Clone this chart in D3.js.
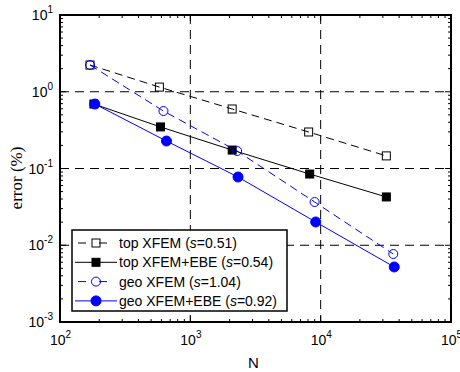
<!DOCTYPE html>
<html>
<head>
<meta charset="utf-8">
<script src="https://cdn.jsdelivr.net/npm/d3@7"></script>
<style>
  body { margin: 0; background: #fff; }
  svg { display: block; font-family: "Liberation Sans", Arial, sans-serif; }
</style>
</head>
<body>
<svg id="chart" width="460" height="372"></svg>
<script>
// values
const seriesNames = ['top XFEM', 'top XFEM+EBE', 'geo XFEM', 'geo XFEM+EBE'];
const slopes = ['0.51', '0.54', '1.04', '0.92'];
const topXfemN = [170, 579, 2094, 8090, 31900];
const topXfemErr = [2.23, 1.15, 0.596, 0.299, 0.146];
const topEbeN = [182, 590, 2094, 8240, 31900];
const topEbeErr = [0.692, 0.348, 0.174, 0.0847, 0.0426];
const geoXfemN = [170, 622, 2286, 8990, 36060];
const geoXfemErr = [2.23, 0.561, 0.169, 0.0366, 0.00769];
const geoEbeN = [185, 656, 2323, 9160, 36700];
const geoEbeErr = [0.692, 0.228, 0.0775, 0.0201, 0.00521];
const xTickExp = [2, 3, 4, 5];
const yTickExp = [-3, -2, -1, 0, 1];

const margin = { top: 15, right: 9, bottom: 50, left: 60 };
const width = 460 - margin.left - margin.right;
const height = 372 - margin.top - margin.bottom;

const svg = d3.select('svg#chart');
const g = svg.append('g')
  .attr('transform', `translate(${margin.left},${margin.top})`);

const x = d3.scaleLog().domain([1e2, 1e5]).range([0, width]);
const y = d3.scaleLog().domain([1e-3, 1e1]).range([height, 0]);

// dashed grid on the major decades
xTickExp.slice(1, -1).forEach(e => {
  g.append('line')
    .attr('x1', x(10 ** e)).attr('x2', x(10 ** e))
    .attr('y1', 0).attr('y2', height)
    .attr('stroke', '#000').attr('stroke-width', 1)
    .attr('stroke-dasharray', '9,6');
});
yTickExp.slice(1, -1).forEach(e => {
  g.append('line')
    .attr('x1', 0).attr('x2', width)
    .attr('y1', y(10 ** e)).attr('y2', y(10 ** e))
    .attr('stroke', '#000').attr('stroke-width', 1)
    .attr('stroke-dasharray', '9,6');
});

const series = [
  { n: topXfemN, e: topXfemErr, color: '#000', dash: '8,5', marker: 'square', fill: 'none' },
  { n: topEbeN, e: topEbeErr, color: '#000', dash: null, marker: 'square', fill: '#000' },
  { n: geoXfemN, e: geoXfemErr, color: '#0000ff', dash: '8,5', marker: 'circle', fill: 'none' },
  { n: geoEbeN, e: geoEbeErr, color: '#0000ff', dash: null, marker: 'circle', fill: '#0000ff' }
];

const line = d3.line().x(d => x(d[0])).y(d => y(d[1]));

function drawMarker(sel, s, cx, cy) {
  if (s.marker === 'square') {
    sel.append('rect')
      .attr('x', cx - 4).attr('y', cy - 4)
      .attr('width', 8).attr('height', 8)
      .attr('fill', s.fill).attr('stroke', s.color).attr('stroke-width', 1);
  } else {
    sel.append('circle')
      .attr('cx', cx).attr('cy', cy).attr('r', s.fill === 'none' ? 4.5 : 5)
      .attr('fill', s.fill).attr('stroke', s.color).attr('stroke-width', 1);
  }
}

series.forEach(s => {
  const pts = s.n.map((v, i) => [v, s.e[i]]);
  g.append('path')
    .attr('d', line(pts))
    .attr('fill', 'none')
    .attr('stroke', s.color)
    .attr('stroke-width', 1)
    .attr('stroke-dasharray', s.dash);
  pts.forEach(p => drawMarker(g, s, x(p[0]), y(p[1])));
});

// axes box
g.append('rect')
  .attr('width', width).attr('height', height)
  .attr('fill', 'none').attr('stroke', '#000').attr('stroke-width', 2);

// inward ticks on all four sides
const ticks = g.append('g').attr('stroke', '#000').attr('stroke-width', 1);
function minorVals(lo, hi) {
  const out = [];
  for (let e = lo; e < hi; e++) for (let m = 2; m <= 9; m++) out.push(m * 10 ** e);
  return out;
}
xTickExp.forEach(e => {
  const px = x(10 ** e);
  ticks.append('line').attr('x1', px).attr('x2', px).attr('y1', height).attr('y2', height - 6);
  ticks.append('line').attr('x1', px).attr('x2', px).attr('y1', 0).attr('y2', 6);
});
minorVals(2, 5).forEach(v => {
  const px = x(v);
  ticks.append('line').attr('x1', px).attr('x2', px).attr('y1', height).attr('y2', height - 3);
  ticks.append('line').attr('x1', px).attr('x2', px).attr('y1', 0).attr('y2', 3);
});
yTickExp.forEach(e => {
  const py = y(10 ** e);
  ticks.append('line').attr('x1', 0).attr('x2', 6).attr('y1', py).attr('y2', py);
  ticks.append('line').attr('x1', width).attr('x2', width - 6).attr('y1', py).attr('y2', py);
});
minorVals(-3, 1).forEach(v => {
  const py = y(v);
  ticks.append('line').attr('x1', 0).attr('x2', 3).attr('y1', py).attr('y2', py);
  ticks.append('line').attr('x1', width).attr('x2', width - 3).attr('y1', py).attr('y2', py);
});

// tick labels as 10^e
function powerLabel(sel, px, py, e, anchor) {
  const t = sel.append('text')
    .attr('x', px).attr('y', py)
    .attr('text-anchor', anchor)
    .attr('font-size', 14).attr('fill', '#000');
  t.append('tspan').text('10');
  t.append('tspan').attr('dy', -7).attr('font-size', 10).text(e);
}
xTickExp.forEach(e => powerLabel(g, x(10 ** e) - 10, height + 23, e, 'start'));
yTickExp.forEach(e => powerLabel(g, -7, y(10 ** e) + 5, e, 'end'));

// axis titles
svg.append('text')
  .attr('x', margin.left + width / 2 - 2).attr('y', 368)
  .attr('text-anchor', 'middle')
  .attr('font-size', 15)
  .text('N');
svg.append('text')
  .attr('transform', 'translate(22,178) rotate(-90)')
  .attr('text-anchor', 'middle')
  .style('font-family', '"Liberation Serif", "Times New Roman", serif')
  .attr('font-size', 17)
  .text('error (%)');

// legend
const legend = g.append('g').attr('transform', 'translate(12,215)');
legend.append('rect')
  .attr('width', 215).attr('height', 81)
  .attr('fill', '#fff').attr('stroke', '#000').attr('stroke-width', 1.5);
series.forEach((s, i) => {
  const ly = 13 + i * 19.3;
  legend.append('line')
    .attr('x1', 3).attr('x2', 45).attr('y1', ly).attr('y2', ly)
    .attr('stroke', s.color).attr('stroke-width', 1)
    .attr('stroke-dasharray', s.dash ? '8,13' : null)
    .attr('stroke-dashoffset', s.dash ? -3 : null);
  drawMarker(legend, s, 24, ly);
  const t = legend.append('text')
    .attr('x', 47).attr('y', ly + 5)
    .attr('font-size', 14).attr('fill', '#000');
  t.append('tspan').text(seriesNames[i] + ' (');
  t.append('tspan').attr('font-style', 'italic').text('s');
  t.append('tspan').text('=' + slopes[i] + ')');
});
</script>
</body>
</html>
